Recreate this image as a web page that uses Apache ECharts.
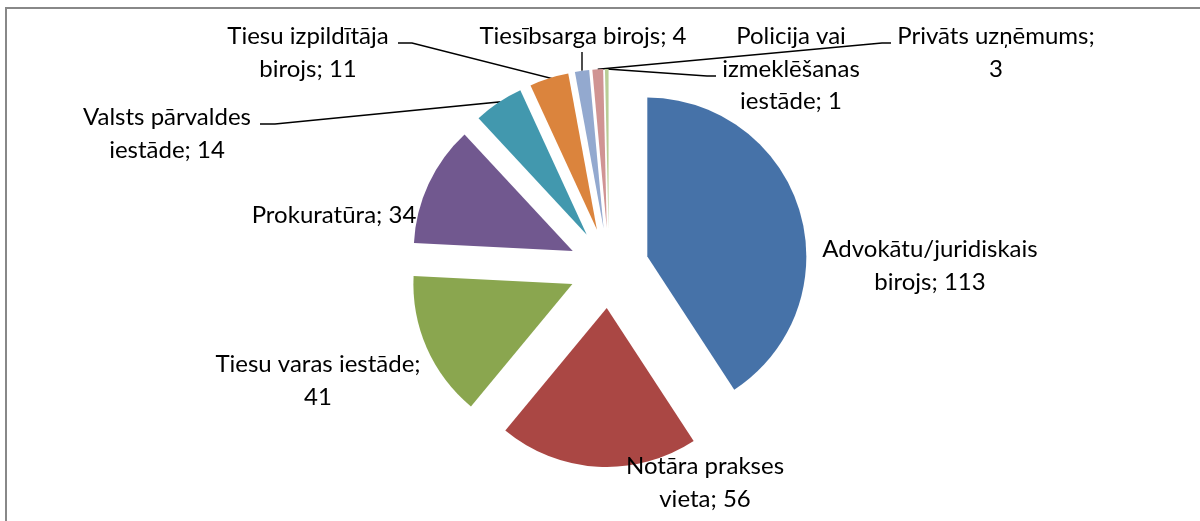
<!DOCTYPE html>
<html>
<head>
<meta charset="utf-8">
<script src="https://cdn.jsdelivr.net/npm/echarts@6/dist/echarts.min.js"></script>
<style>
  html, body { margin: 0; padding: 0; background: #fff; }
  #chart { width: 1200px; height: 521px; }
</style>
</head>
<body>
<div id="chart"></div>
<script>
// slices, clockwise from 12 o'clock
const names = [
  'Advokātu/juridiskais\nbirojs',
  'Notāra prakses\nvieta',
  'Tiesu varas iestāde',
  'Prokuratūra',
  'Valsts pārvaldes\niestāde',
  'Tiesu izpildītāja\nbirojs',
  'Tiesībsarga birojs',
  'Privāts uzņēmums',
  'Policija vai\nizmeklēšanas\niestāde'
]
const values = [113, 56, 41, 34, 14, 11, 4, 3, 1]
const colors = ['#4672a8', '#aa4744', '#8aa64f', '#71588f', '#4298ae',
                '#db843d', '#93a9cf', '#d09493', '#b9cd96']
// separator between name and value (a few labels wrap right after the ';')
const seps = ['; ', '; ', ';\n', '; ', '; ', '; ', '; ', ';\n', '; ']

const CENTER = [609, 268]
const EXPLODE = 40

// label placement (label centre) and leader-line elbows, like the Excel layout
const labelSpots = [
  [930, 266], [705, 483], [318, 381], [334, 215], [167, 134],
  [308, 53], [583, 36], [996, 53], [791, 69]
]
const elbows = [
  null, null, null, null,
  [[499, 102], [275, 124], [260, 124]],
  [[550, 78], [412, 43], [398, 43]],
  [[582, 52]],
  [[882, 43], [891, 43]],
  [[707, 76], [716, 76]]
]

const chart = echarts.init(document.getElementById('chart'))

const pieBase = {
  type: 'pie',
  center: CENTER,
  radius: [0, 159],
  startAngle: 90,
  clockwise: true,
  avoidLabelOverlap: false,
  emphasis: { disabled: true },
  silent: true
}

chart.setOption({
  animation: false,
  backgroundColor: '#ffffff',
  graphic: [{
    type: 'rect',
    shape: { x: 6, y: 8, width: 1400, height: 700 },
    style: { fill: null, stroke: '#888888', lineWidth: 2 },
    silent: true
  }],
  series: [
    // exploded slices
    Object.assign({}, pieBase, {
      selectedMode: 'multiple',
      selectedOffset: EXPLODE,
      label: { show: false },
      labelLine: { show: false },
      data: values.map((v, i) => ({
        name: names[i], value: v, selected: true,
        itemStyle: { color: colors[i] }
      }))
    }),
    // same slices, invisible, carrying the labels and leader lines
    Object.assign({}, pieBase, {
      itemStyle: { color: 'rgba(0,0,0,0)' },
      label: {
        show: true,
        position: 'outside',
        fontFamily: 'Lato',
        fontSize: 24,
        lineHeight: 32.5,
        color: '#000',
        align: 'center',
        formatter: p => p.name + seps[p.dataIndex] + p.value
      },
      labelLine: {
        lineStyle: { color: '#000', width: 1.4 }
      },
      labelLayout: function (p) {
        const i = p.dataIndex
        const out = {
          x: labelSpots[i][0],
          y: labelSpots[i][1],
          align: 'center',
          verticalAlign: 'middle'
        }
        if (elbows[i] && p.labelLinePoints) {
          // push the start point out to the exploded arc
          const a = p.labelLinePoints[0]
          const vx = a[0] - CENTER[0], vy = a[1] - CENTER[1]
          const len = Math.sqrt(vx * vx + vy * vy) || 1
          const start = [a[0] + vx / len * EXPLODE, a[1] + vy / len * EXPLODE]
          out.labelLinePoints = [start].concat(elbows[i])
        }
        return out
      },
      data: values.map((v, i) => ({
        name: names[i], value: v,
        labelLine: { show: !!elbows[i] }
      }))
    })
  ]
})
</script>
</body>
</html>
